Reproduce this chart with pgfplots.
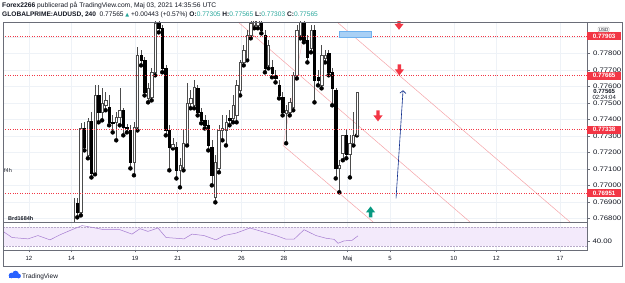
\documentclass[border=0pt]{standalone}
\usepackage{pgfplots}
\pgfplotsset{compat=1.18}
\usepackage{pgfplotstable}
\usetikzlibrary{arrows.meta}
\usepackage{fontspec}
\setmainfont{Liberation Sans}
\newfontfamily\dejavu{DejaVu Sans}

\definecolor{tvred}{HTML}{F23645}
\definecolor{tvteal}{HTML}{26A69A}
\definecolor{tvgreen}{HTML}{089981}
\definecolor{tvgrid}{HTML}{EEF2F7}
\definecolor{tvtext}{HTML}{131722}
\definecolor{tvaxis}{HTML}{6A6D78}
\definecolor{rsiline}{HTML}{A57BD0}
\definecolor{rsifill}{HTML}{F3EAFB}
\definecolor{rsiband}{HTML}{B7A9C9}
\definecolor{chanpink}{HTML}{F5A3A8}
\definecolor{tvnavy}{HTML}{0B2A8A}
\definecolor{boxblue}{HTML}{A9D0F5}
\definecolor{boxedge}{HTML}{6FB1EE}
\definecolor{tvblue}{HTML}{2962FF}

% 4h candles: i = candle index (x = 2.107 + i/6 trading days from Apr 12)
\pgfplotstableread{
i o h l c
0 0.76776 0.76921 0.76727 0.76891
1 0.76891 0.76921 0.76806 0.76836
2 0.76836 0.77376 0.76818 0.77345
3 0.77345 0.77382 0.77212 0.77230
4 0.77182 0.77406 0.77164 0.77388
5 0.77388 0.77442 0.77048 0.77073
6 0.77079 0.77606 0.77067 0.77545
7 0.77545 0.77606 0.77382 0.77442
8 0.77442 0.77588 0.77394 0.77497
9 0.77485 0.77564 0.77455 0.77515
10 0.77473 0.77545 0.77364 0.77382
11 0.77382 0.77424 0.77321 0.77376
12 0.77382 0.77442 0.77273 0.77412
13 0.77412 0.77588 0.77364 0.77455
14 0.77455 0.77467 0.77303 0.77352
15 0.77352 0.77370 0.77321 0.77345
16 0.77333 0.77364 0.77103 0.77139
17 0.77139 0.77382 0.77061 0.77352
18 0.77352 0.77836 0.77333 0.77788
19 0.77788 0.77818 0.77727 0.77758
20 0.77758 0.77776 0.77545 0.77564
21 0.77527 0.77618 0.77503 0.77588
22 0.77533 0.77709 0.77515 0.77685
23 0.77685 0.78000 0.77667 0.77982
24 0.77982 0.78000 0.77927 0.77952
25 0.77952 0.77970 0.77685 0.77709
26 0.77709 0.77727 0.77303 0.77333
27 0.77333 0.77364 0.77091 0.77230
28 0.77230 0.77285 0.77224 0.77248
29 0.77230 0.77261 0.77042 0.77091
30 0.77091 0.77164 0.76988 0.77121
31 0.77109 0.77333 0.77091 0.77255
32 0.77255 0.77618 0.77242 0.77497
33 0.77497 0.77576 0.77467 0.77527
34 0.77485 0.77636 0.77467 0.77594
35 0.77588 0.77606 0.77424 0.77442
36 0.77442 0.77467 0.77376 0.77394
37 0.77394 0.77424 0.77345 0.77364
38 0.77364 0.77394 0.77212 0.77242
39 0.77230 0.77273 0.77000 0.77061
40 0.76927 0.77182 0.76897 0.77139
41 0.77103 0.77364 0.77079 0.77333
42 0.77333 0.77424 0.77273 0.77345
43 0.77333 0.77424 0.77242 0.77382
44 0.77406 0.77455 0.77364 0.77394
45 0.77406 0.77545 0.77382 0.77485
46 0.77424 0.77636 0.77382 0.77606
47 0.77576 0.77758 0.77545 0.77745
48 0.77745 0.77848 0.77727 0.77818
49 0.77770 0.77939 0.77758 0.77909
50 0.77909 0.78012 0.77891 0.77982
51 0.77970 0.78061 0.77952 0.78030
52 0.77970 0.78061 0.77952 0.78012
53 0.77988 0.78030 0.77921 0.77939
54 0.77909 0.77939 0.77685 0.77709
55 0.77727 0.77879 0.77709 0.77848
56 0.77715 0.77758 0.77655 0.77679
57 0.77667 0.77697 0.77624 0.77648
58 0.77606 0.77636 0.77527 0.77545
59 0.77533 0.77564 0.77424 0.77442
60 0.77436 0.77485 0.77255 0.77455
61 0.77442 0.77527 0.77424 0.77503
62 0.77473 0.77685 0.77455 0.77667
63 0.77667 0.77970 0.77648 0.77939
64 0.77909 0.78030 0.77891 0.77988
65 0.77988 0.78030 0.77867 0.77879
66 0.77879 0.77909 0.77745 0.77776
67 0.77830 0.77970 0.77806 0.77939
68 0.77939 0.77970 0.77503 0.77636
69 0.77655 0.77697 0.77606 0.77636
70 0.77606 0.77848 0.77588 0.77788
71 0.77770 0.77818 0.77745 0.77788
72 0.77800 0.77818 0.77667 0.77685
73 0.77685 0.77709 0.77485 0.77588
74 0.77576 0.77588 0.77042 0.77103
75 0.77103 0.77152 0.76958 0.77121
76 0.77194 0.77303 0.77152 0.77303
77 0.77303 0.77333 0.77164 0.77188
78 0.77188 0.77303 0.77048 0.77255
79 0.77255 0.77442 0.77242 0.77303
80 0.77305 0.77565 0.77303 0.77565
}\candles

\pgfplotstableread{
x r
-1.22 60.7
-0.80 47.9
-0.05 45.0
0.42 52.0
0.99 42.9
1.46 53.6
2.02 64.3
2.50 72.9
2.97 69.3
3.53 64.3
4.28 64.3
4.85 55.0
5.23 66.4
5.60 60.7
6.07 67.9
6.45 47.9
7.30 45.0
7.67 55.0
8.24 52.0
8.80 42.9
9.18 52.0
9.75 57.1
10.40 67.9
11.06 59.3
11.63 52.0
12.10 44.3
12.48 44.3
12.95 64.3
13.51 52.0
13.98 46.4
14.36 44.0
14.55 35.7
14.83 40.7
15.21 42.0
15.49 51.4
}\rsi

\pgfdeclareplotmark{candle}{%
  \pgfmathparse{\bh}\let\candleh\pgfmathresult
  \pgfpathrectanglecorners{\pgfpoint{-1.2pt}{0pt}}{\pgfpoint{1.2pt}{\candleh pt}}%
  \pgfusepathqfillstroke}
\pgfdeclareplotmark{arrdown}{%
  \pgfpathmoveto{\pgfpoint{-1.7pt}{5.5pt}}%
  \pgfpathlineto{\pgfpoint{1.7pt}{5.5pt}}%
  \pgfpathlineto{\pgfpoint{1.7pt}{0.5pt}}%
  \pgfpathlineto{\pgfpoint{4.6pt}{0.5pt}}%
  \pgfpathlineto{\pgfpoint{0pt}{-5.5pt}}%
  \pgfpathlineto{\pgfpoint{-4.6pt}{0.5pt}}%
  \pgfpathlineto{\pgfpoint{-1.7pt}{0.5pt}}%
  \pgfpathclose\pgfusepathqfill}
\pgfdeclareplotmark{arrup}{%
  \pgfpathmoveto{\pgfpoint{-1.7pt}{-5.5pt}}%
  \pgfpathlineto{\pgfpoint{1.7pt}{-5.5pt}}%
  \pgfpathlineto{\pgfpoint{1.7pt}{-0.5pt}}%
  \pgfpathlineto{\pgfpoint{4.6pt}{-0.5pt}}%
  \pgfpathlineto{\pgfpoint{0pt}{5.5pt}}%
  \pgfpathlineto{\pgfpoint{-4.6pt}{-0.5pt}}%
  \pgfpathlineto{\pgfpoint{-1.7pt}{-0.5pt}}%
  \pgfpathclose\pgfusepathqfill}

\begin{document}
\begin{tikzpicture}[x=1pt,y=1pt]
\useasboundingbox (0pt,0pt) rectangle (625pt,283pt);

% ---------------- main price pane ----------------
\begin{axis}[
  at={(3pt,61pt)}, anchor=south west,
  width=584pt, height=200pt, scale only axis,
  xmin=-1.224, xmax=26.27, ymin=0.76778, ymax=0.77990,
  clip mode=individual, clip marker paths=true,
  axis line style={tvaxis, line width=0.6pt},
  xtick={0,2,5,7,10,12,15,17,20,22,25}, xticklabels={}, xtick style={draw=none},
  ytick={0.768,0.769,0.770,0.771,0.772,0.773,0.774,0.775,0.776,0.777,0.778,0.779},
  yticklabels={0.76800,0.76900,0.77000,0.77100,0.77200,0.77300,0.77400,0.77500,0.77600,0.77700,0.77800,{}},
  scaled y ticks=false,
  ytick pos=right, yticklabel pos=right,
  tick align=outside, major tick length=3pt,
  ytick style={tvaxis, line width=0.5pt},
  grid=major, grid style={tvgrid, line width=0.6pt},
  yticklabel style={font=\fontsize{6.5}{7}\selectfont, text=tvtext, xscale=1.2, anchor=west, xshift=-1pt},
]
% channel lines
\addplot[chanpink, line width=0.5pt] coordinates {(14.50,0.77990) (25.47,0.76778)};
\addplot[chanpink, line width=0.5pt] coordinates {(9.84,0.77990) (20.76,0.76778)};
\addplot[chanpink, line width=0.5pt] coordinates {(11.96,0.77242) (16.20,0.76778)};
\addplot[chanpink!70, line width=0.4pt] coordinates {(11.96,0.77242) (13.04,0.77990)};
% wicks
\addplot[only marks, mark=none, error bars/.cd, y dir=plus, y explicit, error mark=none,
  error bar style={draw=black!70, line width=0.4pt}]
  table[x expr={2.107+\thisrow{i}/6}, y=l, y error expr={\thisrow{h}-\thisrow{l}}] {\candles};
% up (hollow) bodies
\addplot[only marks, mark=candle, mark options={fill=white, draw=black!70, line width=0.4pt},
  visualization depends on={(\thisrow{c}-\thisrow{o})*16502 \as \bh},
  restrict expr to domain={\thisrow{c}-\thisrow{o}}{0:1}]
  table[x expr={2.107+\thisrow{i}/6}, y=o] {\candles};
% down (filled) bodies
\addplot[only marks, mark=candle, mark options={fill=black, draw=black, line width=0.4pt},
  visualization depends on={(\thisrow{c}-\thisrow{o})*16502 \as \bh},
  restrict expr to domain={\thisrow{c}-\thisrow{o}}{-1:0}]
  table[x expr={2.107+\thisrow{i}/6}, y=o] {\candles};
% horizontal levels
\addplot[tvred, line width=0.7pt, dash pattern=on 0.9pt off 1.5pt] coordinates {(-1.224,0.77903) (26.27,0.77903)};
\addplot[tvred, line width=0.7pt, dash pattern=on 0.9pt off 1.5pt] coordinates {(-1.224,0.77665) (26.27,0.77665)};
\addplot[tvred, line width=0.7pt, dash pattern=on 0.9pt off 1.5pt] coordinates {(-1.224,0.77338) (26.27,0.77338)};
\addplot[tvred, line width=0.7pt, dash pattern=on 0.9pt off 1.5pt] coordinates {(-1.224,0.76951) (26.27,0.76951)};
% blue box
\addplot[fill=boxblue, draw=boxedge, line width=0.4pt] coordinates {(14.60,0.77896) (16.10,0.77896) (16.10,0.77932) (14.60,0.77932)} --cycle;
% arrow marks
\addplot[only marks, mark=arrdown, color=tvred] coordinates {(17.42,0.77976) (17.44,0.77700) (16.43,0.77421)};
\addplot[only marks, mark=arrup, color=tvgreen] coordinates {(16.08,0.76839)};
% projection arrow
\addplot[tvnavy, line width=0.6pt, -{Straight Barb[length=2.6pt,width=6pt]}] coordinates {(17.28,0.76921) (17.61,0.77576)};
\coordinate (L1) at (axis cs:26.27,0.77903);
\coordinate (L2) at (axis cs:26.27,0.77665);
\coordinate (L3) at (axis cs:26.27,0.77338);
\coordinate (L4) at (axis cs:26.27,0.76951);
\coordinate (LC) at (axis cs:26.27,0.77565);
\end{axis}

% ---------------- RSI pane ----------------
\begin{axis}[
  at={(3pt,33pt)}, anchor=south west,
  width=584pt, height=28pt, scale only axis,
  xmin=-1.224, xmax=26.27, ymin=21.58, ymax=80.53,
  clip mode=individual,
  axis line style={tvaxis, line width=0.6pt},
  xtick={0,2,5,7,10,12,15,17,20,22,25},
  xticklabels={12,14,19,21,26,28,Maj,5,10,12,17},
  ytick={40}, yticklabels={40.00},
  xtick pos=bottom, ytick pos=right, yticklabel pos=right,
  tick align=outside, major tick length=2.5pt,
  tick style={tvaxis, line width=0.5pt},
  xmajorgrids, grid style={tvgrid, line width=0.6pt},
  xticklabel style={font=\fontsize{6}{7}\selectfont, text=tvtext},
  yticklabel style={font=\fontsize{6.5}{7}\selectfont, text=tvtext, xscale=1.2, anchor=west, xshift=-1pt},
]
\addplot[draw=none, fill=rsifill] coordinates {(-1.224,30) (26.27,30) (26.27,70) (-1.224,70)} --cycle;
\addplot[rsiband, line width=0.4pt, dash pattern=on 1.5pt off 1.5pt] coordinates {(-1.224,70) (26.27,70)};
\addplot[rsiband, line width=0.4pt, dash pattern=on 1.5pt off 1.5pt] coordinates {(-1.224,30) (26.27,30)};
\addplot[rsiline, line width=0.5pt] table[x=x, y=r] {\rsi};
\end{axis}

% outer frame
\draw[tvaxis, line width=0.6pt] (3pt,17pt) rectangle (622pt,261pt);

% price-scale labels
\foreach \c/\t in {L1/0.77903, L2/0.77665, L3/0.77338, L4/0.76951}{
  \node[fill=tvred, text=white, font=\bfseries\fontsize{6.2}{7}\selectfont, inner sep=0pt,
        minimum height=8pt, minimum width=34pt, anchor=west] at (\c) {\t};
}
\node[fill=white, inner sep=0.3pt, minimum width=33pt, anchor=north west,
      align=center, font=\fontsize{6}{6.5}\selectfont, text=tvtext] at ([yshift=3.5pt,xshift=0.5pt]LC) {\textbf{0.77565}\\02:24:04};
\node[draw=black!35, rounded corners=1pt, fill=white, inner sep=0.8pt, font=\fontsize{4.5}{5}\selectfont, text=tvtext] at (603.5pt,253.5pt) {USD};

% pane labels
\node[anchor=base west, inner sep=0, font=\bfseries\fontsize{5.5}{6}\selectfont, text=tvtext] at (8pt,62.5pt) {Brd1684h};
\node[anchor=base west, inner sep=0, font=\fontsize{5.5}{6}\selectfont, text=tvtext] at (4pt,110pt) {f4h};

% title lines
\node[anchor=base west, inner sep=0, font=\fontsize{6.7}{7}\selectfont, text=tvtext] at (2pt,275pt)
  {\textbf{Forex2266} publicerad på TradingView.com, Maj 03, 2021 14:35:56 UTC};
\node[anchor=base west, inner sep=0, font=\fontsize{6.6}{7}\selectfont, text=tvtext] at (2pt,266pt)
  {\textbf{GLOBALPRIME:AUDUSD, 240}\ \ 0.77565 {\color{tvteal}\dejavu\fontsize{5}{6}\selectfont ▲} +0.00443 (+0.57\%) \textbf{O:}{\color{tvteal}0.77305} \textbf{H:}{\color{tvteal}0.77565} \textbf{L:}{\color{tvteal}0.77303} \textbf{C:}{\color{tvteal}0.77565}};

% TradingView logo
\fill[tvblue] (9pt,4.5pt) rectangle (20pt,7.5pt);
\fill[tvblue] (11.5pt,7.5pt) circle (2.8pt);
\fill[tvblue] (15.5pt,9pt) circle (3.3pt);
\fill[tvblue] (18.5pt,7pt) circle (2.4pt);
\node[anchor=base west, inner sep=0, font=\fontsize{6.5}{7}\selectfont, text=tvtext] at (22pt,4.5pt) {TradingView};
\end{tikzpicture}
\end{document}
